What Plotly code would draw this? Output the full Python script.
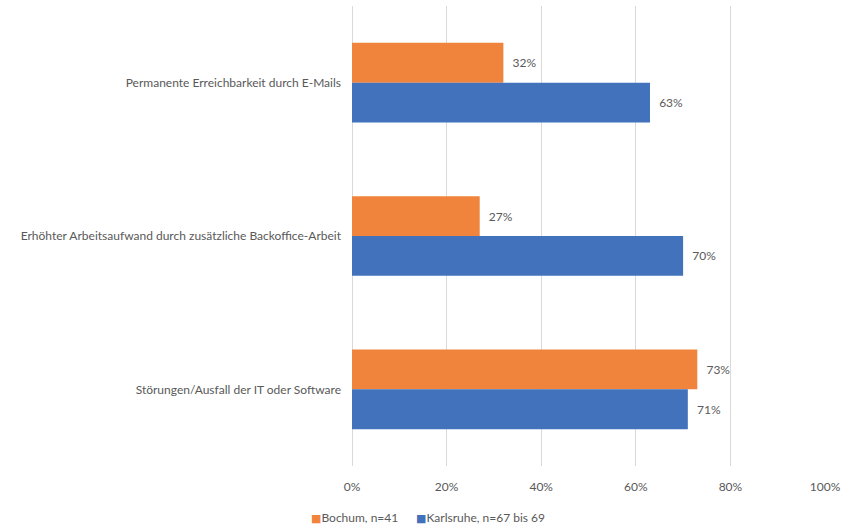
import plotly.graph_objects as go

categories = [
    "Permanente Erreichbarkeit durch E-Mails",
    "Erhöhter Arbeitsaufwand durch zusätzliche Backoffice-Arbeit",
    "Störungen/Ausfall der IT oder Software",
]
bochum = [0.32, 0.27, 0.73]
karlsruhe = [0.63, 0.70, 0.71]
series_names = ["Bochum, n=41", "Karlsruhe, n=67 bis 69"]
series_colors = ["#F0843C", "#4272BC"]
x_ticks = [0, 0.2, 0.4, 0.6, 0.8, 1.0]
x_tick_labels = ["0%", "20%", "40%", "60%", "80%", "100%"]

FONT = "Lato, 'Liberation Sans', sans-serif"
TXT = "#595959"

fig = go.Figure()
for name, vals, color in [(series_names[0], bochum, series_colors[0]), (series_names[1], karlsruhe, series_colors[1])]:
    fig.add_trace(go.Bar(
        y=categories, x=vals, name=name, orientation="h",
        marker=dict(color=color, line=dict(width=0)),
        text=[f"\u00a0\u00a0{round(v*100)}%" for v in vals],
        textposition="outside", cliponaxis=False,
        textfont=dict(family=FONT, size=12, color=TXT),
        showlegend=False,
    ))

# Legend drawn as text annotations (small square markers like the reference)
legend_x = [-0.091, 0.131]
for name, color, lx in zip(series_names, series_colors, legend_x):
    fig.add_annotation(
        x=lx, y=-0.111, xref="paper", yref="paper", xanchor="left", yanchor="middle",
        text=f"<span style='color:{color};font-family:DejaVu Sans;font-size:11px'>■</span>{name}",
        showarrow=False, font=dict(family=FONT, size=12, color=TXT),
    )

fig.update_layout(
    width=845, height=524,
    margin=dict(l=352, r=20, t=6, b=58, autoexpand=False),
    paper_bgcolor="white", plot_bgcolor="white",
    barmode="group", bargap=0.48, bargroupgap=0,
    font=dict(family=FONT, size=12, color=TXT),
    showlegend=False,
)
fig.update_xaxes(range=[0, 1.0], tickvals=x_ticks, ticktext=x_tick_labels,
                 showgrid=True, gridcolor="#D9D9D9", gridwidth=1,
                 zeroline=True, zerolinecolor="#D9D9D9", zerolinewidth=1,
                 showline=False, ticks="", ticklabelstandoff=12, automargin=False,
                 tickfont=dict(family=FONT, size=12, color=TXT))
fig.update_yaxes(autorange="reversed", showgrid=False, showline=False, ticks="",
                 ticklabelstandoff=10, automargin=False,
                 tickfont=dict(family=FONT, size=12, color=TXT))

fig.write_html("out.html", config={"displayModeBar": False},
               post_script="document.body.style.margin='0px';document.body.style.overflow='hidden';")
